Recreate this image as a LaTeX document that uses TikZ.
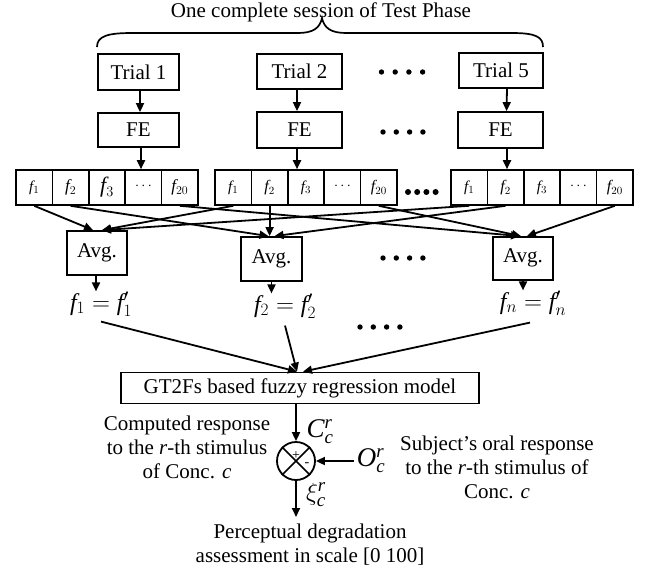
\documentclass[tikz,border=0pt]{standalone}
\usepackage{fontspec}
\setmainfont{Liberation Serif}
\usetikzlibrary{arrows.meta,calc}
\tikzset{
  blk/.style={draw, line width=1.8pt, inner sep=0pt, font=\fontsize{21}{24}\selectfont},
  feat/.style={draw, line width=1.6pt, minimum width=36.4pt, minimum height=35pt,
               inner sep=0pt, font=\fontsize{15}{18}\selectfont},
  arr/.style={line width=1.8pt, -{Triangle[length=9pt,width=8pt]}},
  txt/.style={font=\fontsize{21}{24}\selectfont, align=center, inner sep=0pt},
  eqlab/.style={font=\fontsize{24}{26}\selectfont, inner sep=0pt},
  biglab/.style={font=\fontsize{27}{30}\selectfont, inner sep=0pt},
  sign/.style={font=\fontsize{14}{14}\selectfont, inner sep=0pt},
}
\newcommand{\fourdots}[3]{% x of first dot, y, spacing
  \foreach \k in {0,...,3} \fill ({#1+\k*#3},#2) circle (2.7pt);}
\begin{document}
\begin{tikzpicture}[x=1pt,y=-1pt]
\useasboundingbox (0,0) rectangle (653,571);

% heading and brace over the trials
\node[txt] (title) at (321,12) {One complete session of Test Phase};
\draw[line width=1.7pt]
  (97,47) .. controls (97,36) and (108,33) .. (132,33)
  -- (298,33) .. controls (313,33) and (320,28) .. (322,18)
  .. controls (324,28) and (331,33) .. (346,33)
  -- (512,33) .. controls (536,33) and (543,37) .. (543,47);

% trials
\node[blk, minimum width=81pt, minimum height=36pt] (tr1) at (138.5,72) {Trial 1};
\node[blk, minimum width=85pt, minimum height=35pt] (tr2) at (299.5,71.5) {Trial 2};
\node[blk, minimum width=84pt, minimum height=35pt] (tr5) at (501,70.5) {Trial 5};
\fourdots{381.5}{72}{13.7}

% feature extraction
\node[blk, minimum width=81pt, minimum height=34pt] (fe1) at (138.5,130) {FE};
\node[blk, minimum width=85pt, minimum height=36pt] (fe2) at (299.5,130) {\raisebox{-3pt}{FE}};
\node[blk, minimum width=85pt, minimum height=36pt] (fe5) at (500.5,130) {\raisebox{-4pt}{FE}};
\fourdots{383}{132}{13.3}

% feature vectors
\node[feat] (g1a) at (34.2,187.5) {$\mathit{f}_1$};
\node[feat] (g1b) at (70.6,187.5) {\fontsize{17}{18}\selectfont$\mathit{f}_2$};
\node[feat] (g1c) at (107.0,187.5) {\fontsize{22}{22}\selectfont\raisebox{-4pt}{$\mathit{f}_3$}};
\node[feat] (g1d) at (143.4,187.5) {\raisebox{3pt}{$\cdots$}};
\node[feat] (g1e) at (179.8,187.5) {\fontsize{17}{18}\selectfont$\mathit{f}_{20}$};
\foreach \g/\x in {2/215,3/451} {
  \node[feat] (g\g a) at (\x+18.2,187.5) {$\mathit{f}_1$};
  \node[feat] (g\g b) at (\x+54.6,187.5) {\fontsize{16}{18}\selectfont$\mathit{f}_2$};
  \node[feat] (g\g c) at (\x+91.0,187.5) {$\mathit{f}_3$};
  \node[feat] (g\g d) at (\x+127.4,187.5) {\raisebox{3pt}{$\cdots$}};
  \node[feat] (g\g e) at (\x+163.8,187.5) {\fontsize{16}{18}\selectfont$\mathit{f}_{20}$};
}
\foreach \k in {0,...,3} \fill ({408+\k*9.2},192) circle (3pt);

% trial -> FE -> features
\draw[arr] ([xshift=1.5pt]tr1.south) -- ([xshift=1.5pt]fe1.north);
\draw[arr] ([xshift=-2.5pt]tr2.south) -- ([xshift=-2.5pt]fe2.north);
\draw[arr] ([xshift=6pt]tr5.south) -- ([xshift=6pt]fe5.north);
\draw[arr] ([xshift=2.5pt]fe1.south) -- ([xshift=2.5pt]fe1.south |- g1d.north);
\draw[arr] ([xshift=-2.5pt]fe2.south) -- ([xshift=-2.5pt]fe2.south |- g2c.north);
\draw[arr] ([xshift=6.5pt]fe5.south) -- ([xshift=6.5pt]fe5.south |- g3b.north);

% averaging blocks
\node[blk, minimum width=60pt, minimum height=44pt] (avg1) at (97,253) {Avg.};
\node[blk, minimum width=61pt, minimum height=44pt] (avg2) at (271.5,259) {Avg.};
\node[blk, minimum width=60pt, minimum height=43pt] (avg3) at (523,258.5) {\raisebox{5pt}{Avg.}};
\fourdots{383}{258}{13.3}

% same feature of every trial goes to one average
\draw[arr] (g1a.south) -- ([xshift=-4pt]avg1.north);
\draw[arr] (g2a.south) -- ([xshift=5pt]avg1.north);
\draw[arr] (g3a.south) -- ([xshift=5pt]avg1.north);
\draw[arr] (g1b.south) -- ([xshift=-3pt]avg2.north);
\draw[arr] (g2b.south) -- (g2b.south |- avg2.north);
\draw[arr] (g3b.south) -- ([xshift=3pt]avg2.north);
\draw[arr] (g1e.south) -- ([xshift=-3pt]avg3.north);
\draw[arr] (g2e.south) -- ([xshift=-2pt]avg3.north);
\draw[arr] (g3e.south) -- ([xshift=4pt]avg3.north);

% averaged features
\node[eqlab] (lab1) at (101,304) {$\mathit{f}_1=\mathit{f}_1'$};
\node[eqlab] (lab2) at (285,306) {$\mathit{f}_2=\mathit{f}_2'$};
\node[eqlab] (lab3) at (533,303) {$\mathit{f}_n=\mathit{f}_n'$};
\fourdots{360}{327}{13.3}
\draw[arr] ([xshift=-1pt]avg1.south) -- ([xshift=-1pt]avg1.south |- lab1.north);
\draw[arr] (avg2.south) -- (avg2.south |- lab2.north);
\draw[arr] (avg3.south) -- (avg3.south |- lab3.north);

% regression model
\node[blk, minimum width=358pt, minimum height=31pt]
  (gt) at (300,388) {GT2Fs based fuzzy regression model};
\draw[arr] ([yshift=-5pt]lab1.south) -- ([xshift=-3pt]gt.north);
\draw[arr] ([yshift=-7pt]lab2.south) -- ([xshift=-3pt]gt.north);
\draw[arr] ([xshift=-3pt,yshift=-7pt]lab3.south) -- ([xshift=3pt]gt.north);

% comparison with the oral response
\node[draw, circle, line width=1.8pt, minimum size=38pt, inner sep=0pt] (sum) at (296,461) {};
\draw[line width=1.6pt] (sum.north west) -- (sum.south east) (sum.north east) -- (sum.south west);
\node[sign] (plus) at (296,455.5) {+};
\node[sign] (minus) at (307,465) {-};
\node[biglab] (ccr) at (320,432) {$\mathit{C}_{\mathit{c}}^{\mathit{r}}$};
\node[biglab] (ocr) at (371,461) {$\mathit{O}_{\mathit{c}}^{\mathit{r}}$};
\node[biglab] (xcr) at (316,495) {$\xi_{\mathit{c}}^{\mathit{r}}$};
\coordinate (outend) at (296,517);
\draw[arr] (sum.north |- gt.south) -- (sum.north);
\draw[arr] ([xshift=-3pt]ocr.west) -- (sum.east);
\draw[arr] (sum.south) -- (outend);

\node[txt] (ctext) at (187,447) {Computed response\\to the \textit{r}-th stimulus\\of Conc. \textit{c}};
\node[txt] (otext) at (497,467) {Subject's oral response\\to the \textit{r}-th stimulus of\\Conc. \textit{c}};
\node[txt] (ptext) at (310,544.5) {Perceptual degradation\\assessment in scale [0 100]};
\end{tikzpicture}
\end{document}
